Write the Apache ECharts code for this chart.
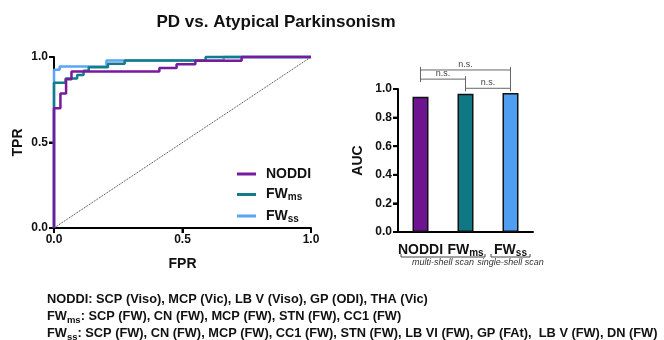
<!DOCTYPE html>
<html>
<head>
<meta charset="utf-8">
<script src="https://cdn.jsdelivr.net/npm/echarts/dist/echarts.min.js"></script>
<style>
  html, body { margin: 0; padding: 0; background: #fff; }
  #chart { width: 664px; height: 340px; }
</style>
</head>
<body>
<div id="chart"></div>
<script>
const titleText = 'PD vs. Atypical Parkinsonism';

// ROC curve vertices (drawn with step: 'end')
const noddiFpr = [0, 0, 0.025, 0.047, 0.068, 0.41, 0.477, 0.55, 0.73, 1];
const noddiTpr = [0, 0.70, 0.787, 0.87, 0.915, 0.935, 0.958, 0.978, 1, 1];
const fwmsFpr = [0, 0, 0.045, 0.09, 0.115, 0.135, 0.21, 0.275, 0.59, 1];
const fwmsTpr = [0, 0.85, 0.875, 0.895, 0.92, 0.94, 0.96, 0.98, 1, 1];
const fwssFpr = [0, 0, 0.022, 0.204, 0.66, 1];
const fwssTpr = [0, 0.925, 0.944, 0.98, 1, 1];
const chanceLine = [0, 1];
const rocTicks = [0, 0.5, 1];

// AUC bars
const aucNames = ['NODDI', 'FWms', 'FWss'];
const aucValues = [0.945, 0.966, 0.972];
const aucTicks = [0, 0.2, 0.4, 0.6, 0.8, 1];
const sigPairs = [[0, 2], [0, 1], [1, 2]];
const sigLabels = ['n.s.', 'n.s.', 'n.s.'];
const scanGroups = [[0, 1], [2, 2]];
const scanLabels = ['multi-shell scan', 'single-shell scan'];

const footerLines = [
  ['NODDI', 'SCP (Viso), MCP (Vic), LB V (Viso), GP (ODI), THA (Vic)'],
  ['FWms', 'SCP (FW), CN (FW), MCP (FW), STN (FW), CC1 (FW)'],
  ['FWss', 'SCP (FW), CN (FW), MCP (FW), CC1 (FW), STN (FW), LB VI (FW), GP (FAt),  LB V (FW), DN (FW)']
];

const FONT = 'Liberation Sans, Arial, sans-serif';
const colors = { NODDI: '#781a9c', FWms: '#137c88', FWss: '#5aa5f5' };
const barColors = ['#6e1491', '#0f7885', '#4e9ff2'];

const chart = echarts.init(document.getElementById('chart'), null, { renderer: 'canvas' });

const toPts = (xs, ys) => xs.map((x, i) => [x, ys[i]]);
// name with subscript, e.g. FWms -> FW + "ms"
const subName = (n, b, s) => n === 'NODDI' ? `{${b}|NODDI}` : `{${b}|FW}{${s}|${n.slice(2)}}`;

const blackLine = () => ({ color: '#000000', width: 2 });
const tickLabel = () => ({ fontFamily: FONT, fontWeight: 'bold', fontSize: 12, color: '#111', formatter: (v) => v.toFixed(1) });
const axisName = () => ({ fontFamily: FONT, fontWeight: 'bold', fontSize: 14, color: '#111' });
const frame = () => ({ stroke: '#000000', lineWidth: 2 });

function rocSeries(name, xs, ys, z) {
  return {
    name: name, type: 'line', step: 'end', xAxisIndex: 0, yAxisIndex: 0,
    data: toPts(xs, ys), symbol: 'none', clip: false, z: z,
    lineStyle: { width: 2.5, color: colors[name] },
    itemStyle: { color: colors[name] }
  };
}

// axis lines + ticks of the ROC panel
function renderRocFrame(params, api) {
  const o = api.coord([0, 0]), xe = api.coord([1, 0]), ye = api.coord([0, 1]);
  const kids = [
    { type: 'line', shape: { x1: o[0], y1: o[1], x2: xe[0], y2: xe[1] }, style: frame() },
    { type: 'line', shape: { x1: o[0], y1: o[1], x2: ye[0], y2: ye[1] }, style: frame() }
  ];
  rocTicks.forEach((t) => {
    const px = api.coord([t, 0]), py = api.coord([0, t]);
    kids.push({ type: 'line', shape: { x1: px[0], y1: px[1], x2: px[0], y2: px[1] + 5 }, style: frame() });
    kids.push({ type: 'line', shape: { x1: py[0] - 5, y1: py[1], x2: py[0], y2: py[1] }, style: frame() });
  });
  return { type: 'group', children: kids };
}

// axis lines + ticks of the AUC panel
function renderAucFrame(params, api) {
  const band = api.size([1, 0])[0];
  const c0 = api.coord([0, 0]), cl = api.coord([aucNames.length - 1, 0]);
  const left = c0[0] - band / 2, right = cl[0] + band / 2;
  const top = api.coord([0, 1])[1];
  const kids = [
    { type: 'line', shape: { x1: left, y1: c0[1], x2: right, y2: c0[1] }, style: frame() },
    { type: 'line', shape: { x1: left, y1: c0[1], x2: left, y2: top }, style: frame() }
  ];
  aucTicks.forEach((t) => {
    const y = api.coord([0, t])[1];
    kids.push({ type: 'line', shape: { x1: left - 5, y1: y, x2: left, y2: y }, style: frame() });
  });
  return { type: 'group', children: kids };
}

function renderSig(params, api) {
  const a = api.value(0), b = api.value(1), k = api.value(2);
  const levelOf = (j) => 1.005 + (sigPairs.length - 1 - j) * 0.064;
  const p = api.coord([a, levelOf(k)]);
  const q = api.coord([b, levelOf(k)]);
  const ls = { stroke: '#666', lineWidth: 1 };
  // cap reaches down to a lower bracket sharing the same end
  const capBottom = (idx, y) => {
    for (let j = k + 1; j < sigPairs.length; j++) {
      if (sigPairs[j][0] === idx || sigPairs[j][1] === idx) return api.coord([idx, levelOf(j)])[1];
    }
    return y + 3;
  };
  return {
    type: 'group',
    children: [
      { type: 'line', shape: { x1: p[0], y1: p[1], x2: q[0], y2: q[1] }, style: ls },
      { type: 'line', shape: { x1: p[0], y1: p[1] - 3, x2: p[0], y2: capBottom(a, p[1]) }, style: ls },
      { type: 'line', shape: { x1: q[0], y1: q[1] - 3, x2: q[0], y2: capBottom(b, q[1]) }, style: ls },
      {
        type: 'text', x: (p[0] + q[0]) / 2, y: p[1] - 1,
        style: { text: sigLabels[k], align: 'center', verticalAlign: 'bottom', fontSize: 9, fontFamily: FONT, fill: '#444' }
      }
    ]
  };
}

function renderGroup(params, api) {
  const a = api.value(0), b = api.value(1), k = api.value(2);
  const band = api.size([1, 0])[0];
  const p = api.coord([a, 0]), q = api.coord([b, 0]);
  const x1 = p[0] - band / 2 + 3, x2 = q[0] + band / 2 - 3, y = p[1] + 25;
  return {
    type: 'group',
    children: [
      { type: 'polyline', shape: { points: [[x1, y - 3], [x1, y], [x2, y], [x2, y - 3]] }, style: { stroke: '#444', lineWidth: 1, fill: null } },
      {
        type: 'text', x: (x1 + x2) / 2, y: y + 1,
        style: { text: scanLabels[k], align: 'center', verticalAlign: 'top', fontSize: 9, fontStyle: 'italic', fontFamily: FONT, fill: '#333' }
      }
    ]
  };
}

const subRich = () => ({
  b: { fontFamily: FONT, fontWeight: 'bold', fontSize: 14, color: '#111', lineHeight: 16 },
  s: { fontFamily: FONT, fontWeight: 'bold', fontSize: 10, color: '#111', lineHeight: 8, verticalAlign: 'bottom' }
});

const option = {
  backgroundColor: '#fff',
  animation: false,
  title: {
    text: titleText, left: 271, top: 9, textAlign: 'center',
    textStyle: { fontFamily: FONT, fontWeight: 'bold', fontSize: 17, color: '#111' }
  },
  legend: {
    data: ['NODDI', 'FWms', 'FWss'],
    orient: 'vertical', left: 232, top: 162, itemGap: 6.5,
    icon: 'rect', itemWidth: 19, itemHeight: 3,
    formatter: (n) => subName(n, 'b', 's'),
    textStyle: { padding: [0, 0, 0, 5], rich: subRich() }
  },
  grid: [
    { left: 54, top: 57, width: 257, height: 171 },
    { left: 398, top: 89, width: 135, height: 143 }
  ],
  xAxis: [
    {
      type: 'value', gridIndex: 0, min: 0, max: 1, interval: 0.5,
      name: 'FPR', nameLocation: 'middle', nameGap: 29, nameTextStyle: axisName(),
      axisLine: { show: true, lineStyle: blackLine() },
      axisTick: { show: true, length: 5, lineStyle: blackLine() },
      axisLabel: Object.assign({ margin: 6 }, tickLabel()),
      splitLine: { show: false }
    },
    {
      type: 'category', gridIndex: 1, data: aucNames,
      axisLine: { show: true, lineStyle: blackLine() },
      axisTick: { show: false },
      axisLabel: { interval: 0, margin: 10, formatter: (n) => subName(n, 'b', 's'), rich: subRich() }
    }
  ],
  yAxis: [
    {
      type: 'value', gridIndex: 0, min: 0, max: 1, interval: 0.5,
      name: 'TPR', nameLocation: 'middle', nameGap: 29, nameTextStyle: axisName(),
      axisLine: { show: true, lineStyle: blackLine() },
      axisTick: { show: true, length: 5, lineStyle: blackLine() },
      axisLabel: Object.assign({ margin: 6 }, tickLabel()),
      splitLine: { show: false }
    },
    {
      type: 'value', gridIndex: 1, min: 0, max: 1, interval: 0.2,
      name: 'AUC', nameLocation: 'middle', nameGap: 33, nameTextStyle: axisName(),
      axisLine: { show: true, lineStyle: blackLine() },
      axisTick: { show: true, length: 5, lineStyle: blackLine() },
      axisLabel: Object.assign({ margin: 6 }, tickLabel()),
      splitLine: { show: false }
    }
  ],
  series: [
    {
      type: 'custom', xAxisIndex: 0, yAxisIndex: 0, clip: false, silent: true, z: 1,
      renderItem: renderRocFrame, data: [[0.5, 0.5]], encode: { x: 0, y: 1 }
    },
    {
      type: 'custom', xAxisIndex: 1, yAxisIndex: 1, clip: false, silent: true, z: 1,
      renderItem: renderAucFrame, data: [[0, 0.5]], encode: { x: 0, y: 1 }
    },
    {
      type: 'line', xAxisIndex: 0, yAxisIndex: 0, data: chanceLine.map((v) => [v, v]),
      symbol: 'none', silent: true, z: 1,
      lineStyle: { color: '#333', width: 1, type: 'dotted' }
    },
    rocSeries('FWss', fwssFpr, fwssTpr, 2),
    rocSeries('FWms', fwmsFpr, fwmsTpr, 3),
    rocSeries('NODDI', noddiFpr, noddiTpr, 4),
    {
      type: 'bar', xAxisIndex: 1, yAxisIndex: 1, barWidth: 16, z: 2,
      data: aucValues.map((v, i) => ({ value: v, itemStyle: { color: barColors[i] } })),
      itemStyle: { borderColor: '#111', borderWidth: 1.5 }
    },
    {
      type: 'custom', xAxisIndex: 1, yAxisIndex: 1, clip: false, silent: true,
      renderItem: renderSig,
      data: sigPairs.map((p, i) => [p[0], p[1], i]),
      encode: { x: [0, 1] }
    },
    {
      type: 'custom', xAxisIndex: 1, yAxisIndex: 1, clip: false, silent: true,
      renderItem: renderGroup,
      data: scanGroups.map((g, i) => [g[0], g[1], i]),
      encode: { x: [0, 1] }
    }
  ],
  graphic: [
    {
      type: 'text', left: 47, top: 293,
      style: {
        text: footerLines.map((l) => subName(l[0], 'f', 'fs') + '{f|: ' + l[1] + '}').join('\n'),
        rich: {
          f: { fontFamily: FONT, fontWeight: 'bold', fontSize: 12.8, fill: '#111', lineHeight: 17 },
          fs: { fontFamily: FONT, fontWeight: 'bold', fontSize: 9.5, fill: '#111', lineHeight: 9, verticalAlign: 'bottom' }
        }
      }
    }
  ]
};

chart.setOption(option);
</script>
</body>
</html>
